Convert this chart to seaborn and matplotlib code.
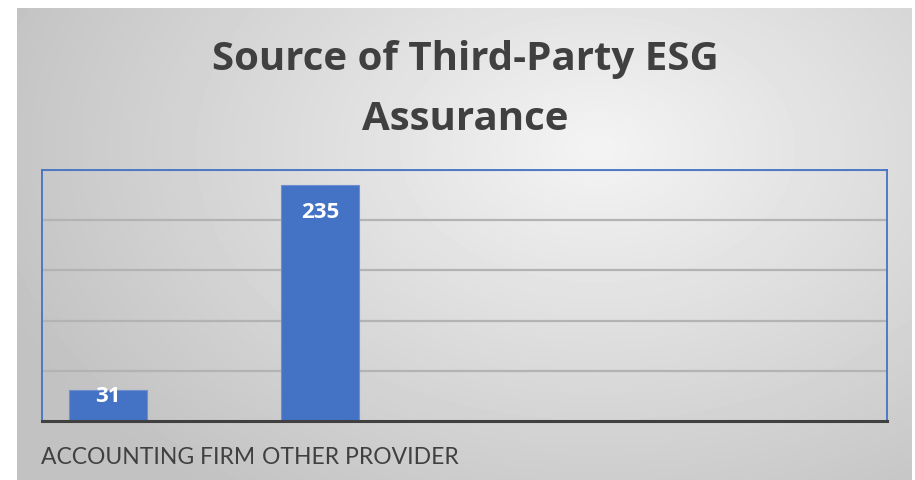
import numpy as np
import matplotlib
matplotlib.use("Agg")
import matplotlib.pyplot as plt
import seaborn as sns

# values
categories = ["ACCOUNTING FIRM", "OTHER PROVIDER"]
counts = [31, 235]
title_lines = ["Source of Third-Party ESG", "Assurance"]

sns.set_theme(style="white")
plt.rcParams["font.family"] = ["Lato", "DejaVu Sans"]

W, H = 915, 480
fig = plt.figure(figsize=(W / 100, H / 100), dpi=100)
fig.patch.set_facecolor("white")

# gradient backdrop of the chart area
bg = fig.add_axes([17 / W, 0, (912 - 17) / W, (480 - 8) / H])
yy, xx = np.mgrid[0:472, 0:895]
d = np.sqrt(((xx - 580) / 620) ** 2 + ((yy - 140) / 420) ** 2)
shade = np.clip(0.955 - 0.19 * d, 0.76, 0.96)
bg.imshow(shade, cmap="gray", vmin=0, vmax=1, aspect="auto", interpolation="bilinear")
bg.set_axis_off()

ax = fig.add_axes([42 / W, (480 - 421) / H, 845 / W, 251 / H])
ax.patch.set_alpha(0)
sns.barplot(x=categories, y=counts, color="#4472C4", width=0.368, saturation=1,
            edgecolor="#6d8fd0", linewidth=0.8, ax=ax, zorder=3)

ax.set_xlim(-0.311, 3.675)
ax.set_ylim(0, 250)
ax.set_yticks([50, 100, 150, 200, 250])
ax.yaxis.grid(True, color="#b3b3b3", linewidth=1.6)
ax.set_axisbelow(True)
ax.tick_params(axis="y", left=False, labelleft=False)
ax.set_xticks(np.arange(len(categories)) + 0.19, categories)
ax.tick_params(axis="x", bottom=False, labelsize=16.5, labelcolor="#404040", pad=13)
ax.set_xlabel("")
ax.set_ylabel("")

for side in ["left", "right", "top"]:
    ax.spines[side].set_visible(True)
    ax.spines[side].set_color("#4472C4")
    ax.spines[side].set_linewidth(1.3)
ax.spines["bottom"].set_color("#404040")
ax.spines["bottom"].set_linewidth(2.2)
ax.spines["bottom"].set_zorder(4)

for i, v in enumerate(counts):
    ax.text(i, max(v - 27, 24), str(v), ha="center", va="center", family="Open Sans",
            color="white", fontsize=16, fontweight="bold", zorder=5)

for line, base in zip(title_lines, [70, 130]):
    fig.text(465 / W, 1 - base / H, line, ha="center", va="baseline", family="Open Sans",
             fontsize=29, fontweight="bold", color="#404040")

fig.savefig("out.png", dpi=100)
